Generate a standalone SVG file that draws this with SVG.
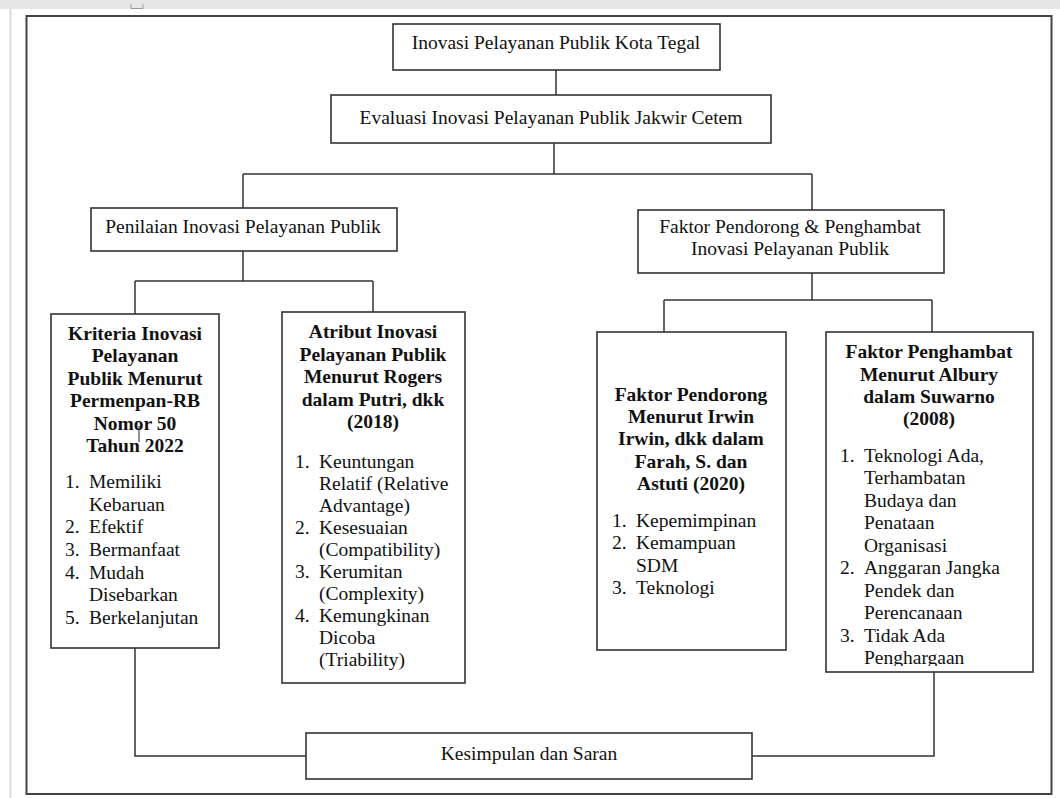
<svg xmlns="http://www.w3.org/2000/svg" width="1060" height="798" viewBox="0 0 1060 798">
<defs>
<style>
.box{fill:#fff;stroke:#333;stroke-width:1.6}
.t{font-family:"Liberation Serif","Times New Roman",serif;font-size:19.5px;fill:#111}
.c{text-anchor:middle}
.b{font-weight:bold}
.con{fill:none;stroke:#333;stroke-width:1.5}
</style>
<clipPath id="clipP"><rect x="826" y="332" width="207" height="334"/></clipPath>
</defs>
<rect x="0" y="0" width="1060" height="798" fill="#fff"/>
<rect x="0" y="0" width="1060" height="9" fill="#e6e6e6"/>
<line x1="10.5" y1="9" x2="10.5" y2="798" stroke="#dcdcdc" stroke-width="2"/>
<path d="M131,4 V8.5 H143 V4" fill="none" stroke="#999" stroke-width="1"/>
<rect x="26.5" y="16" width="1025" height="778" fill="none" stroke="#444" stroke-width="2"/>

<g id="connectors">
<path class="con" d="M556,70 V95"/>
<path class="con" d="M554,143 V174"/>
<path class="con" d="M243,174 H812"/>
<path class="con" d="M243,174 V208"/>
<path class="con" d="M812,174 V210"/>
<path class="con" d="M243,251 V281"/>
<path class="con" d="M135,281 H373"/>
<path class="con" d="M135,281 V314"/>
<path class="con" d="M373,281 V312"/>
<path class="con" d="M812,273 V300"/>
<path class="con" d="M664,300 H932"/>
<path class="con" d="M664,300 V332"/>
<path class="con" d="M932,300 V332"/>
<path class="con" d="M135,648 V756 H306"/>
<path class="con" d="M934,672 V756 H752"/>
</g>

<g id="n-kota-tegal">
<rect class="box" x="393" y="24" width="327" height="46"/>
<text class="t c" x="556" y="49">Inovasi Pelayanan Publik Kota Tegal</text>
</g>

<g id="n-evaluasi">
<rect class="box" x="331" y="95" width="440" height="48"/>
<text class="t c" x="551" y="124">Evaluasi Inovasi Pelayanan Publik Jakwir Cetem</text>
</g>

<g id="n-penilaian">
<rect class="box" x="91" y="208" width="306" height="43"/>
<text class="t c" x="243" y="233">Penilaian Inovasi Pelayanan Publik</text>
</g>

<g id="n-faktor">
<rect class="box" x="638" y="210" width="306" height="63"/>
<text class="t c" x="790" y="233">Faktor Pendorong &amp; Penghambat</text>
<text class="t c" x="790" y="255">Inovasi Pelayanan Publik</text>
</g>

<g id="n-kriteria">
<rect class="box" x="51" y="314" width="168" height="334"/>
<text class="t c b" x="135" y="339.5">Kriteria Inovasi</text>
<text class="t c b" x="135" y="362">Pelayanan</text>
<text class="t c b" x="135" y="384.5">Publik Menurut</text>
<text class="t c b" x="135" y="407">Permenpan-RB</text>
<text class="t c b" x="135" y="429.5">Nomor 50</text>
<text class="t c b" x="135" y="452">Tahun 2022</text>
<line x1="139" y1="426" x2="139" y2="442" stroke="#222" stroke-width="1"/>
<text class="t" x="65" y="488">1.</text><text class="t" x="89" y="488">Memiliki</text>
<text class="t" x="89" y="510.5">Kebaruan</text>
<text class="t" x="65" y="533">2.</text><text class="t" x="89" y="533">Efektif</text>
<text class="t" x="65" y="556">3.</text><text class="t" x="89" y="556">Bermanfaat</text>
<text class="t" x="65" y="578.5">4.</text><text class="t" x="89" y="578.5">Mudah</text>
<text class="t" x="89" y="601">Disebarkan</text>
<text class="t" x="65" y="624">5.</text><text class="t" x="89" y="624">Berkelanjutan</text>
</g>

<g id="n-atribut">
<rect class="box" x="282" y="312" width="183" height="371"/>
<text class="t c b" x="373" y="338">Atribut Inovasi</text>
<text class="t c b" x="373" y="360.5">Pelayanan Publik</text>
<text class="t c b" x="373" y="383">Menurut Rogers</text>
<text class="t c b" x="373" y="405.5">dalam Putri, dkk</text>
<text class="t c b" x="373" y="428">(2018)</text>
<text class="t" x="295" y="468">1.</text><text class="t" x="319" y="468">Keuntungan</text>
<text class="t" x="319" y="490">Relatif (Relative</text>
<text class="t" x="319" y="512">Advantage)</text>
<text class="t" x="295" y="534">2.</text><text class="t" x="319" y="534">Kesesuaian</text>
<text class="t" x="319" y="556">(Compatibility)</text>
<text class="t" x="295" y="578">3.</text><text class="t" x="319" y="578">Kerumitan</text>
<text class="t" x="319" y="600">(Complexity)</text>
<text class="t" x="295" y="622">4.</text><text class="t" x="319" y="622">Kemungkinan</text>
<text class="t" x="319" y="644">Dicoba</text>
<text class="t" x="319" y="666">(Triability)</text>
</g>

<g id="n-pendorong">
<rect class="box" x="597" y="332" width="189" height="318"/>
<text class="t c b" x="691" y="401">Faktor Pendorong</text>
<text class="t c b" x="691" y="423">Menurut Irwin</text>
<text class="t c b" x="691" y="445">Irwin, dkk dalam</text>
<text class="t c b" x="691" y="467.5">Farah, S. dan</text>
<text class="t c b" x="691" y="489.5">Astuti (2020)</text>
<text class="t" x="612" y="526.5">1.</text><text class="t" x="636" y="526.5">Kepemimpinan</text>
<text class="t" x="612" y="549">2.</text><text class="t" x="636" y="549">Kemampuan</text>
<text class="t" x="636" y="571.5">SDM</text>
<text class="t" x="612" y="594">3.</text><text class="t" x="636" y="594">Teknologi</text>
</g>

<g id="n-penghambat">
<rect class="box" x="826" y="332" width="207" height="340"/>
<text class="t c b" x="929" y="358">Faktor Penghambat</text>
<text class="t c b" x="929" y="380.5">Menurut Albury</text>
<text class="t c b" x="929" y="403">dalam Suwarno</text>
<text class="t c b" x="929" y="425">(2008)</text>
<g clip-path="url(#clipP)">
<text class="t" x="840" y="461.5">1.</text><text class="t" x="864" y="461.5">Teknologi Ada,</text>
<text class="t" x="864" y="484">Terhambatan</text>
<text class="t" x="864" y="506.5">Budaya dan</text>
<text class="t" x="864" y="529">Penataan</text>
<text class="t" x="864" y="551.5">Organisasi</text>
<text class="t" x="840" y="574">2.</text><text class="t" x="864" y="574">Anggaran Jangka</text>
<text class="t" x="864" y="596.5">Pendek dan</text>
<text class="t" x="864" y="619">Perencanaan</text>
<text class="t" x="840" y="641.5">3.</text><text class="t" x="864" y="641.5">Tidak Ada</text>
<text class="t" x="864" y="664">Penghargaan</text>
</g>
</g>

<g id="n-kesimpulan">
<rect class="box" x="306" y="733" width="446" height="46"/>
<text class="t c" x="529" y="760">Kesimpulan dan Saran</text>
</g>
</svg>
